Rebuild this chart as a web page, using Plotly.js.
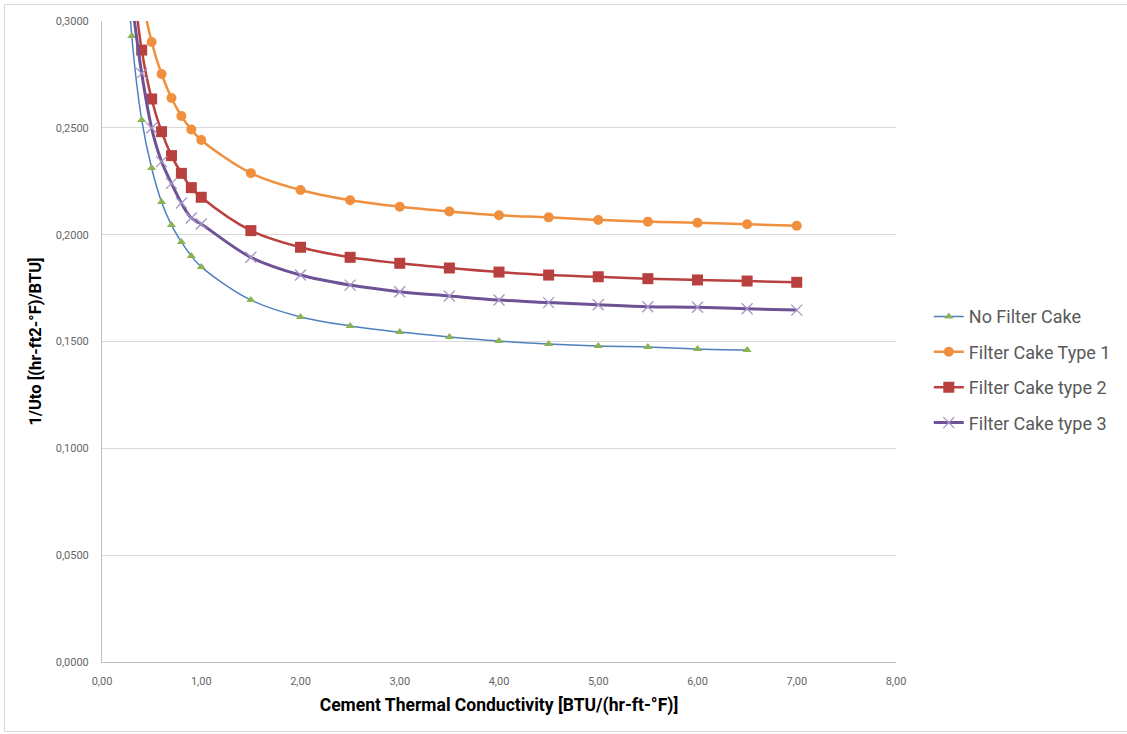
<!DOCTYPE html>
<html>
<head>
<meta charset="utf-8">
<script src="https://cdn.plot.ly/plotly-3.0.1.min.js"></script>
<style>
  html, body { margin: 0; padding: 0; background: #fff; }
  #wrap { position: relative; width: 1127px; height: 734px; overflow: hidden; }
  #chart { width: 1127px; height: 734px; }
  #frame { position: absolute; left: 4px; top: 4px; width: 1140px; height: 728px;
           border: 1px solid #d9d9d9; box-sizing: border-box; pointer-events: none; }
</style>
</head>
<body>
<div id="wrap"><div id="chart"></div><div id="frame"></div></div>
<script>
// Cement thermal conductivity [BTU/(hr-ft-°F)]
const kNoCake = [0.2, 0.3, 0.4, 0.5, 0.6, 0.7, 0.8, 0.9, 1.0, 1.5, 2.0, 2.5, 3.0, 3.5, 4.0, 4.5, 5.0, 5.5, 6.0, 6.5];
const kCake   = [0.3, 0.4, 0.5, 0.6, 0.7, 0.8, 0.9, 1.0, 1.5, 2.0, 2.5, 3.0, 3.5, 4.0, 4.5, 5.0, 5.5, 6.0, 6.5, 7.0];

// 1/Uto [(hr-ft2-°F)/BTU]
const noFilterCake = [0.369, 0.2930, 0.2537, 0.2312, 0.2153, 0.2045, 0.1966, 0.1900, 0.1849, 0.1694, 0.1615, 0.1573, 0.1544, 0.1521, 0.1502, 0.1488, 0.1479, 0.1474, 0.1465, 0.1460];
const cakeType1    = [0.351, 0.313, 0.2902, 0.2752, 0.2640, 0.2555, 0.2492, 0.2443, 0.2288, 0.2209, 0.2161, 0.2131, 0.2109, 0.2091, 0.2081, 0.2069, 0.2061, 0.2056, 0.2049, 0.2042];
const cakeType2    = [0.325, 0.2864, 0.2635, 0.2482, 0.2370, 0.2287, 0.2220, 0.2175, 0.2019, 0.1941, 0.1894, 0.1866, 0.1844, 0.1825, 0.1811, 0.1803, 0.1794, 0.1788, 0.1783, 0.1777];
const cakeType3    = [0.310, 0.2755, 0.2499, 0.2342, 0.2240, 0.2148, 0.2078, 0.2050, 0.1894, 0.1811, 0.1764, 0.1733, 0.1713, 0.1694, 0.1682, 0.1672, 0.1663, 0.1660, 0.1653, 0.1647];

const seriesNames = ["No Filter Cake", "Filter Cake Type 1", "Filter Cake type 2", "Filter Cake type 3"];

const FONT = '"Roboto", "DejaVu Sans Condensed", sans-serif';

const traces = [
  {
    x: kNoCake, y: noFilterCake, name: seriesNames[0], legendgroup: 'a',
    mode: 'lines+markers', type: 'scatter', cliponaxis: true,
    line: { color: '#4F81BD', width: 1.5, shape: 'spline', smoothing: 1 },
    marker: { symbol: 'triangle-up', size: 8, color: '#8DB254', line: { width: 0 } }
  },
  {
    x: kCake, y: cakeType1, name: seriesNames[1], legendgroup: 'b',
    mode: 'lines+markers', type: 'scatter', cliponaxis: true,
    line: { color: '#F0903F', width: 2.5, shape: 'spline', smoothing: 1 },
    marker: { symbol: 'circle', size: 10, color: '#F0903F', line: { width: 0 } }
  },
  {
    x: kCake, y: cakeType2, name: seriesNames[2], legendgroup: 'c',
    mode: 'lines+markers', type: 'scatter', cliponaxis: true,
    line: { color: '#B8403F', width: 2.5, shape: 'spline', smoothing: 1 },
    marker: { symbol: 'square', size: 11, color: '#B8403F', line: { width: 0 } }
  },
  {
    x: kCake, y: cakeType3, name: seriesNames[3], legendgroup: 'd',
    mode: 'lines+markers', type: 'scatter', cliponaxis: true,
    line: { color: '#6E5296', width: 3, shape: 'spline', smoothing: 1 },
    marker: { symbol: 'x-thin', size: 11, color: '#A595C4', line: { width: 1.3, color: '#A595C4' } }
  }
];

const layout = {
  width: 1127, height: 734,
  margin: { l: 102, r: 230, t: 21, b: 72, pad: 0 },
  paper_bgcolor: 'rgba(0,0,0,0)', plot_bgcolor: '#ffffff',
  separators: ',.',
  font: { family: FONT, color: '#595959', size: 11 },
  showlegend: true,
  legend: {
    x: 1.04, xanchor: 'left', y: 0.456, yanchor: 'middle',
    font: { family: FONT, size: 18, color: '#595959' },
    tracegroupgap: 9, traceorder: 'grouped', itemwidth: 30,
    bgcolor: 'rgba(0,0,0,0)'
  },
  xaxis: {
    range: [0, 8], dtick: 1, tick0: 0, tickformat: '.2f',
    showgrid: false, zeroline: false,
    showline: true, linecolor: '#BFBFBF', linewidth: 1,
    ticks: '', ticklabelstandoff: 9,
    tickfont: { family: FONT, size: 11, color: '#666666' },
    title: { text: 'Cement Thermal Conductivity [BTU/(hr-ft-°F)]', standoff: 11,
             font: { family: FONT, size: 17.5, color: '#000000', weight: 'bold' } }
  },
  yaxis: {
    range: [0, 0.3], dtick: 0.05, tick0: 0, tickformat: '.4f',
    showgrid: true, gridcolor: '#D9D9D9', gridwidth: 1, zeroline: false,
    showline: true, linecolor: '#BFBFBF', linewidth: 1,
    ticks: '', ticklabelstandoff: 10,
    tickfont: { family: FONT, size: 11, color: '#666666' },
    title: { text: '1/Uto [(hr-ft2-°F)/BTU]', standoff: 9,
             font: { family: FONT, size: 16.5, color: '#000000', weight: 'bold' } }
  }
};

Plotly.newPlot('chart', traces, layout, { staticPlot: true, displayModeBar: false });
</script>
</body>
</html>
